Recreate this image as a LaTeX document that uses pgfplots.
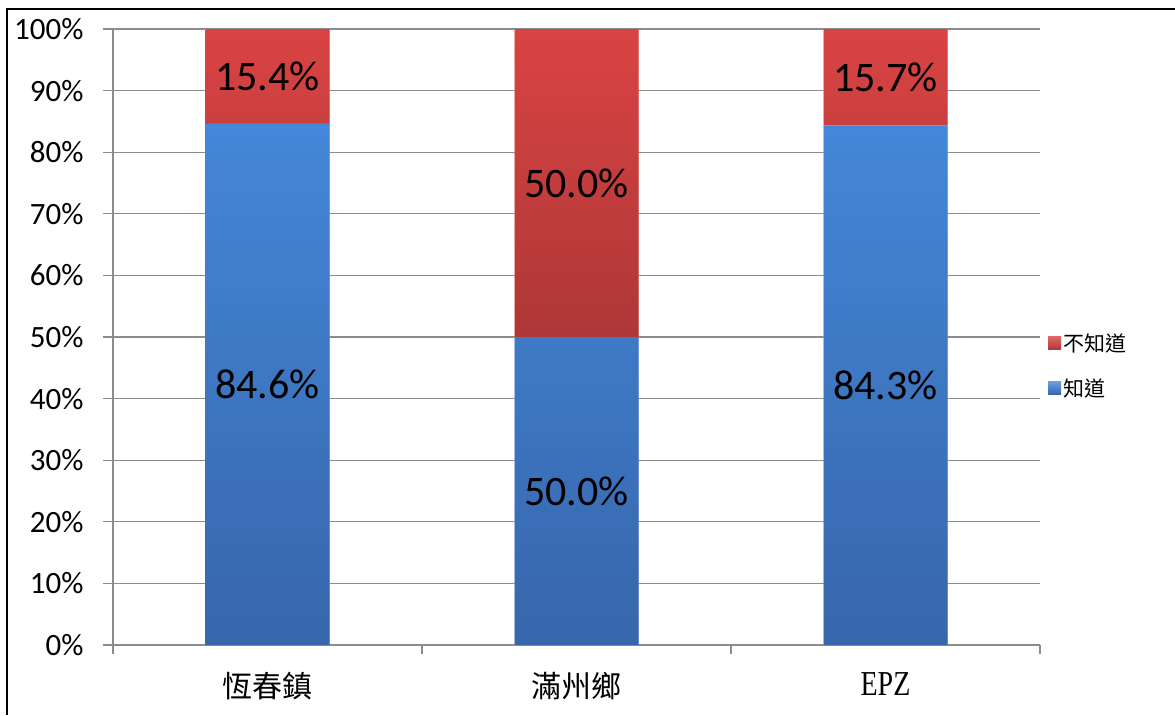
\documentclass[border=0pt]{standalone}
\usepackage{pgfplots}
\usepackage{pgfplotstable}
\pgfplotsset{compat=1.18}
\usepackage{fontspec}
\setmainfont{Carlito}
\newfontfamily\cjk{Noto Sans CJK TC}
\newfontfamily\serif[FakeStretch=0.8]{Liberation Serif}
\definecolor{bluetop}{HTML}{4487D8}
\definecolor{bluebot}{HTML}{3766AB}
\definecolor{redtop}{HTML}{D94343}
\definecolor{redbot}{HTML}{AE3737}
\definecolor{gridgray}{HTML}{8C8C8C}
\pgfplotstableread{
x know dont
0 84.6 15.4
1 50.0 50.0
2 84.3 15.7
}\data
\begin{document}
\begin{tikzpicture}[x=1pt,y=1pt]
\useasboundingbox (0,-715) rectangle (1175,0);
\draw[line width=2pt] (7,-715) -- (7,-9) -- (1175,-9);
\begin{axis}[
  at={(113pt,-645pt)}, anchor=south west,
  scale only axis, width=927pt, height=616pt,
  ybar stacked, bar width=124pt,
  xmin=-0.5, xmax=2.5, ymin=0, ymax=100,
  /pgf/number format/assume math mode=true,
  axis lines*=left,
  axis line style={gridgray, line width=1.3pt},
  ymajorgrids, grid style={gridgray, line width=1.3pt},
  ytick={0,10,...,100},
  yticklabel={\pgfmathprintnumber{\tick}\%},
  yticklabel style={font=\fontsize{31}{37}\selectfont, xshift=-16pt},
  xtick={0,1,2},
  xticklabels={{\cjk 恆春鎮},{\cjk 滿州鄉},{\serif\fontsize{35}{40}\selectfont EPZ}},
  xticklabel style={font=\fontsize{30}{36}\selectfont, yshift=-14pt},
  major x tick style={draw=none},
  minor xtick={-0.5,0.5,1.5,2.5},
  minor x tick style={gridgray, line width=1.3pt},
  tick align=outside, major tick length=10pt, minor tick length=9pt,
  ytick style={gridgray, line width=1.3pt},
  point meta=explicit,
  nodes near coords={\pgfmathprintnumber[fixed,fixed zerofill,precision=1,assume math mode=true]{\pgfplotspointmeta}\%},
  every node near coord/.append style={font=\fontsize{42}{50}\selectfont, anchor=center, text=black},
  reverse legend,
  legend style={at={(1.0054,0.453)}, anchor=west, draw=none, fill=none,
    font=\cjk\fontsize{21}{25}\selectfont, row sep=22pt,
    /tikz/every even column/.append style={column sep=6pt}},
  legend cell align=left,
  clip=false,
]
\addplot+[draw=none, top color=bluetop, bottom color=bluebot,
  legend image code/.code={\shade[top color=bluetop!80!white, bottom color=bluebot] (0pt,-6pt) rectangle (13pt,7pt);}]
  table[x=x, y=know, meta=know] {\data};
\addlegendentry{知道}
\addplot+[draw=none, top color=redtop, bottom color=redbot,
  legend image code/.code={\shade[top color=redtop!80!white, bottom color=redbot] (0pt,-6pt) rectangle (13pt,7pt);}]
  table[x=x, y=dont, meta=dont] {\data};
\addlegendentry{不知道}
\end{axis}
\end{tikzpicture}
\end{document}
